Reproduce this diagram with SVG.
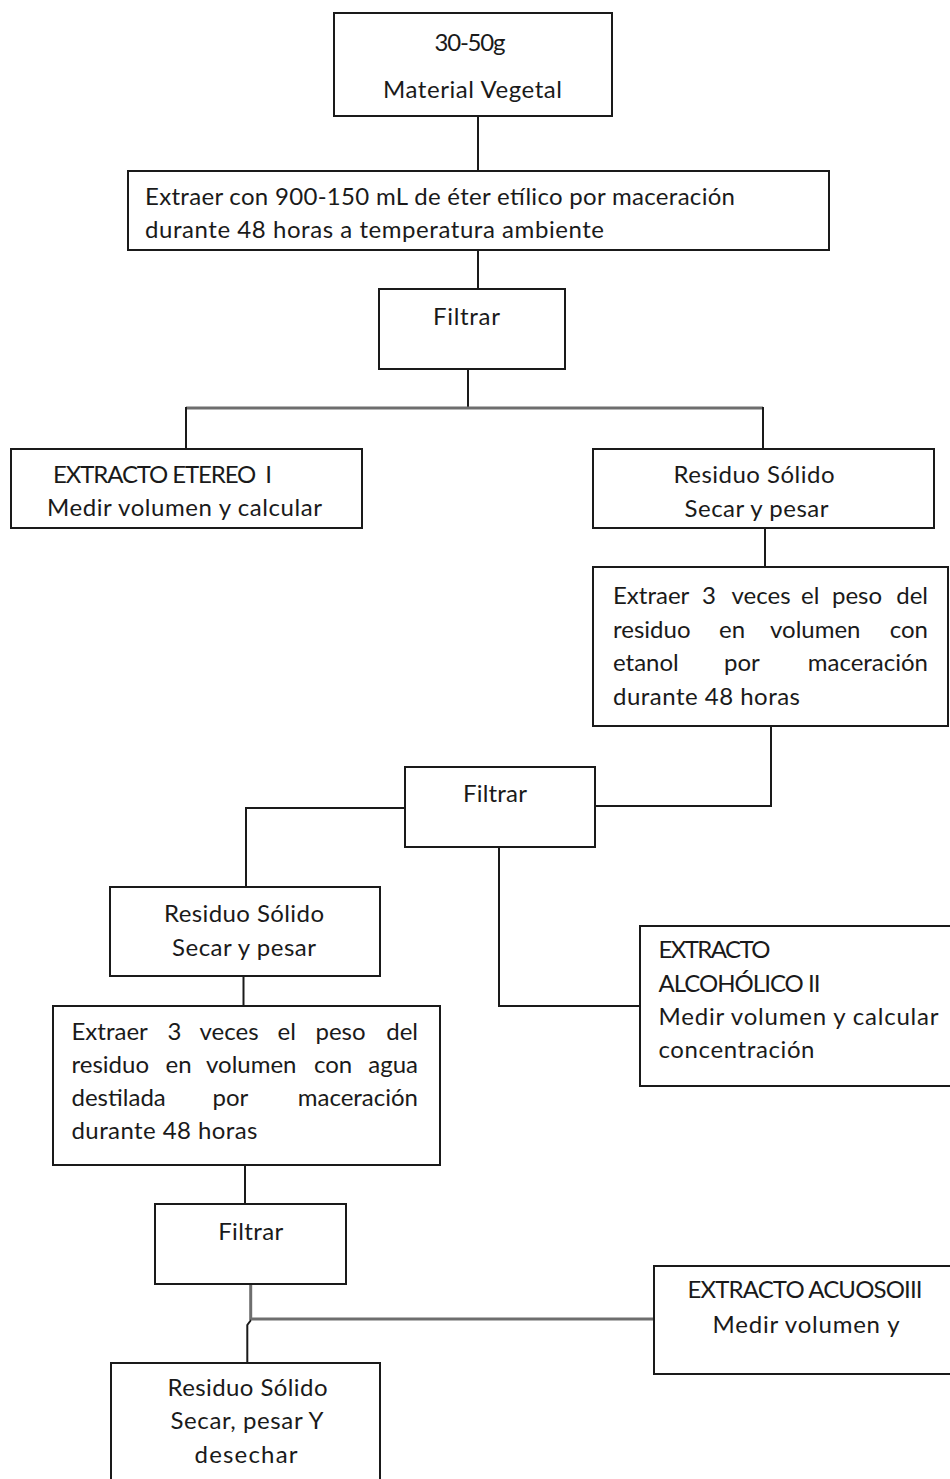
<svg xmlns="http://www.w3.org/2000/svg" width="950" height="1479" viewBox="0 0 950 1479">
  <style>
    .box { fill: #ffffff; stroke: #1a1a1a; stroke-width: 2; }
    .ln { fill: none; stroke: #1a1a1a; stroke-width: 2; }
    .gray { fill: none; stroke: #6e6e6e; stroke-width: 3; }
    text { font-family: "Lato", "Carlito", "Liberation Sans", sans-serif; font-size: 24px; fill: #1a1a1a; }
    .c { text-anchor: middle; }
    .e { text-anchor: end; }
  </style>
  <rect width="950" height="1479" fill="#ffffff"/>

  <!-- connectors -->
  <g id="connectors">
    <line class="ln" x1="478" y1="116" x2="478" y2="171"/>
    <line class="ln" x1="478" y1="250" x2="478" y2="289"/>
    <line class="ln" x1="468" y1="369" x2="468" y2="408"/>
    <line class="gray" x1="186" y1="408" x2="763" y2="408"/>
    <line class="ln" x1="186" y1="407" x2="186" y2="449"/>
    <line class="ln" x1="763" y1="407" x2="763" y2="449"/>
    <line class="ln" x1="765" y1="528" x2="765" y2="567"/>
    <polyline class="ln" points="771,726 771,806 596,806"/>
    <polyline class="ln" points="405,808 246,808 246,887"/>
    <polyline class="ln" points="499,847 499,1006 640,1006"/>
    <line class="ln" x1="243.5" y1="976" x2="243.5" y2="1006"/>
    <line class="ln" x1="245" y1="1165" x2="245" y2="1204"/>
    <line class="gray" x1="250.7" y1="1284" x2="250.7" y2="1320"/>
    <line class="gray" x1="252" y1="1319" x2="654" y2="1319"/>
    <polyline class="ln" points="251,1320 247.3,1325 247.3,1363"/>
  </g>

  <!-- 30-50g material vegetal -->
  <g id="n-material">
    <rect class="box" x="334" y="13" width="278" height="103"/>
    <text class="c" x="470" y="51" textLength="71">30-50g</text>
    <text class="c" x="472.5" y="98" textLength="179">Material Vegetal</text>
  </g>

  <!-- extraction with ether -->
  <g id="n-eter">
    <rect class="box" x="128" y="171" width="701" height="79"/>
    <text x="145" y="205" textLength="590">Extraer con 900-150 mL de éter etílico por maceración</text>
    <text x="145" y="238" textLength="459">durante 48 horas a temperatura ambiente</text>
  </g>

  <!-- filter 1 -->
  <g id="n-filtrar1">
    <rect class="box" x="379" y="289" width="186" height="80"/>
    <text class="c" x="466.5" y="325" textLength="67">Filtrar</text>
  </g>

  <!-- ether extract -->
  <g id="n-etereo">
    <rect class="box" x="11" y="449" width="351" height="79"/>
    <text x="53" y="483" textLength="219" xml:space="preserve">EXTRACTO ETEREO  I</text>
    <text x="47" y="516" textLength="275">Medir volumen y calcular</text>
  </g>

  <!-- solid residue 1 -->
  <g id="n-residuo1">
    <rect class="box" x="593" y="449" width="341" height="79"/>
    <text class="c" x="754" y="483" textLength="161">Residuo Sólido</text>
    <text class="c" x="756.5" y="517" textLength="144">Secar y pesar</text>
  </g>

  <!-- ethanol extraction (justified words) -->
  <g id="n-etanol">
    <rect class="box" x="593" y="567" width="355" height="159"/>
    <text x="613" y="604">Extraer</text>
    <text x="702" y="604">3</text>
    <text x="731.5" y="604">veces</text>
    <text x="801" y="604">el</text>
    <text x="832" y="604">peso</text>
    <text class="e" x="928" y="604">del</text>
    <text x="613" y="638">residuo</text>
    <text x="719" y="638">en</text>
    <text x="770" y="638">volumen</text>
    <text class="e" x="928" y="638">con</text>
    <text x="613" y="671">etanol</text>
    <text x="724" y="671">por</text>
    <text class="e" x="928" y="671">maceración</text>
    <text x="613" y="705" textLength="187">durante 48 horas</text>
  </g>

  <!-- filter 2 -->
  <g id="n-filtrar2">
    <rect class="box" x="405" y="767" width="190" height="80"/>
    <text class="c" x="495" y="802" textLength="64">Filtrar</text>
  </g>

  <!-- solid residue 2 -->
  <g id="n-residuo2">
    <rect class="box" x="110" y="887" width="270" height="89"/>
    <text class="c" x="244" y="922" textLength="160">Residuo Sólido</text>
    <text class="c" x="244" y="956" textLength="144">Secar y pesar</text>
  </g>

  <!-- alcoholic extract -->
  <g id="n-alcoholico">
    <rect class="box" x="640" y="926" width="320" height="160"/>
    <text x="658.5" y="958" textLength="112">EXTRACTO</text>
    <text x="658.5" y="992" textLength="162">ALCOHÓLICO II</text>
    <text x="658.5" y="1025" textLength="280">Medir volumen y calcular</text>
    <text x="658.5" y="1058" textLength="156">concentración</text>
  </g>

  <!-- water extraction (justified words) -->
  <g id="n-agua">
    <rect class="box" x="53" y="1006" width="387" height="159"/>
    <text x="71.5" y="1040">Extraer</text>
    <text x="167.5" y="1040">3</text>
    <text x="199.5" y="1040">veces</text>
    <text x="277.5" y="1040">el</text>
    <text x="315.5" y="1040">peso</text>
    <text class="e" x="418" y="1040">del</text>
    <text x="71.5" y="1073">residuo</text>
    <text x="165.5" y="1073">en</text>
    <text x="206" y="1073">volumen</text>
    <text x="314" y="1073">con</text>
    <text class="e" x="418" y="1073">agua</text>
    <text x="71.5" y="1106">destilada</text>
    <text x="212.5" y="1106">por</text>
    <text class="e" x="418" y="1106">maceración</text>
    <text x="71.5" y="1139" textLength="186">durante 48 horas</text>
  </g>

  <!-- filter 3 -->
  <g id="n-filtrar3">
    <rect class="box" x="155" y="1204" width="191" height="80"/>
    <text class="c" x="250.7" y="1240" textLength="65">Filtrar</text>
  </g>

  <!-- aqueous extract -->
  <g id="n-acuoso">
    <rect class="box" x="654" y="1266" width="310" height="108"/>
    <text class="c" x="805" y="1298" textLength="235">EXTRACTO ACUOSOIII</text>
    <text class="c" x="806" y="1333" textLength="187">Medir volumen y</text>
  </g>

  <!-- solid residue 3 -->
  <g id="n-residuo3">
    <rect class="box" x="111" y="1363" width="269" height="130"/>
    <text class="c" x="247.5" y="1396" textLength="160">Residuo Sólido</text>
    <text class="c" x="247" y="1429" textLength="153">Secar, pesar Y</text>
    <text class="c" x="246" y="1463" textLength="103">desechar</text>
  </g>
</svg>
